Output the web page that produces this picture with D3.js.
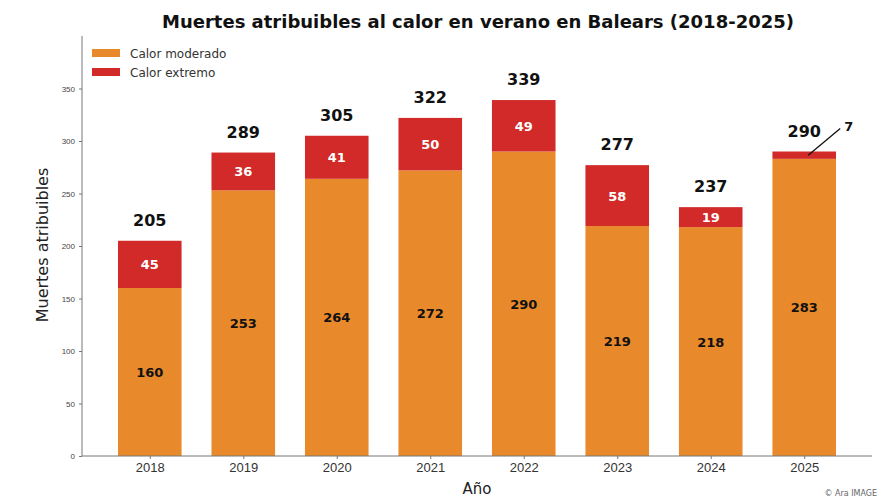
<!DOCTYPE html>
<html>
<head>
<meta charset="utf-8">
<script src="https://cdn.jsdelivr.net/npm/d3@7"></script>
<style>
  body { margin: 0; background: #fff; }
  svg { font-family: "DejaVu Sans", sans-serif; }
</style>
</head>
<body>
<div id="chart"></div>
<script>
// data
var years = ["2018", "2019", "2020", "2021", "2022", "2023", "2024", "2025"];
var moderado = [160, 253, 264, 272, 290, 219, 218, 283];
var extremo = [45, 36, 41, 50, 49, 58, 19, 7];
var yTicks = [0, 50, 100, 150, 200, 250, 300, 350];

var W = 893, H = 497;
var plot = {left: 82, right: 872, top: 36, bottom: 456};

var moderado_color = '#e8892b';
var extremo_color = '#d12a28';

var svg = d3.select('#chart').append('svg')
  .attr('width', W)
  .attr('height', H);

// scales
var x = d3.scalePoint().domain(years).range([plot.left, plot.right]).padding(0.725);
var y = d3.scaleLinear().domain([0, 400]).range([plot.bottom, plot.top]);
var barW = x.step() * 0.68;

var rows = years.map(function(yr, i){
  return {year: yr, mod: moderado[i], ext: extremo[i], total: moderado[i] + extremo[i]};
});

// title
svg.append('text')
  .attr('x', 478).attr('y', 28)
  .attr('text-anchor', 'middle')
  .style('font-size', '18px')
  .style('font-weight', 'bold')
  .style('fill', '#111')
  .text('Muertes atribuibles al calor en verano en Balears (2018-2025)');

// bars - moderate
svg.selectAll('.mod').data(rows).enter().append('rect')
  .attr('x', function(d){ return x(d.year) - barW / 2; })
  .attr('y', function(d){ return y(d.mod); })
  .attr('width', barW)
  .attr('height', function(d){ return y(0) - y(d.mod); })
  .style('fill', moderado_color);

// bars - extreme
svg.selectAll('.ext').data(rows).enter().append('rect')
  .attr('x', function(d){ return x(d.year) - barW / 2; })
  .attr('y', function(d){ return y(d.total); })
  .attr('width', barW)
  .attr('height', function(d){ return y(d.mod) - y(d.total); })
  .style('fill', extremo_color);

// y axis
var yAxis = svg.append('g')
  .attr('transform', 'translate(' + plot.left + ',0)')
  .call(d3.axisLeft(y).tickValues(yTicks).tickSize(3).tickPadding(4));
yAxis.selectAll('text').style('font-size', '8px').style('fill', '#444');
yAxis.select('.domain').attr('d', 'M0,' + plot.top + 'V' + plot.bottom).style('stroke', '#777');
yAxis.selectAll('.tick line').style('stroke', '#777');

// x axis
var xAxis = svg.append('g')
  .attr('transform', 'translate(0,' + plot.bottom + ')')
  .call(d3.axisBottom(x).tickSize(3).tickPadding(4));
xAxis.selectAll('text').style('font-size', '13px').style('fill', '#333');
xAxis.select('.domain').attr('d', 'M' + plot.left + ',0H' + plot.right).style('stroke', '#777');
xAxis.selectAll('.tick line').style('stroke', '#777');

// axis labels
svg.append('text')
  .attr('transform', 'translate(48,' + 245 + ') rotate(-90)')
  .attr('text-anchor', 'middle')
  .style('font-size', '16px')
  .style('fill', '#222')
  .text('Muertes atribuibles');

svg.append('text')
  .attr('x', 477).attr('y', 494)
  .attr('text-anchor', 'middle')
  .style('font-size', '15px')
  .style('fill', '#222')
  .text('Año');

// moderate labels (middle of orange part)
svg.selectAll('.modlab').data(rows).enter().append('text')
  .attr('x', function(d){ return x(d.year); })
  .attr('y', function(d){ return (y(0) + y(d.mod)) / 2 + 5; })
  .attr('text-anchor', 'middle')
  .style('font-size', '13px')
  .style('font-weight', 'bold')
  .style('fill', '#111')
  .text(function(d){ return d.mod; });

// extreme labels (white, inside red part) - skip the thin one
svg.selectAll('.extlab').data(rows.filter(function(d){ return d.ext >= 15; })).enter().append('text')
  .attr('x', function(d){ return x(d.year); })
  .attr('y', function(d){ return (y(d.mod) + y(d.total)) / 2 + 5; })
  .attr('text-anchor', 'middle')
  .style('font-size', '13px')
  .style('font-weight', 'bold')
  .style('fill', '#fff')
  .text(function(d){ return d.ext; });

// totals
svg.selectAll('.totlab').data(rows).enter().append('text')
  .attr('x', function(d){ return x(d.year); })
  .attr('y', function(d){ return y(d.total) - 15; })
  .attr('text-anchor', 'middle')
  .style('font-size', '16px')
  .style('font-weight', 'bold')
  .style('fill', '#111')
  .text(function(d){ return d.total; });

// annotation for the thin extreme segment
rows.filter(function(d){ return d.ext < 15; }).forEach(function(d){
  var px = x(d.year) + 4, py = (y(d.mod) + y(d.total)) / 2;
  svg.append('line')
    .attr('x1', px + 32).attr('y1', y(d.total) - 23)
    .attr('x2', px).attr('y2', py)
    .style('stroke', '#111')
    .style('stroke-width', 1.3);
  svg.append('text')
    .attr('x', px + 36).attr('y', y(d.total) - 21)
    .attr('text-anchor', 'start')
    .style('font-size', '13px')
    .style('font-weight', 'bold')
    .style('fill', '#111')
    .text(d.ext);
});

// legend
var legend = svg.append('g').attr('transform', 'translate(92,49)');
[['Calor moderado', moderado_color], ['Calor extremo', extremo_color]].forEach(function(item, i){
  legend.append('rect')
    .attr('x', 0).attr('y', i * 19)
    .attr('width', 28).attr('height', 8)
    .style('fill', item[1]);
  legend.append('text')
    .attr('x', 38).attr('y', i * 19 + 8.5)
    .style('font-size', '12px')
    .style('fill', '#333')
    .text(item[0]);
});

// credit
svg.append('text')
  .attr('x', 877).attr('y', 496)
  .attr('text-anchor', 'end')
  .style('font-size', '8px')
  .style('fill', '#666')
  .text('© Ara IMAGE');
</script>
</body>
</html>
